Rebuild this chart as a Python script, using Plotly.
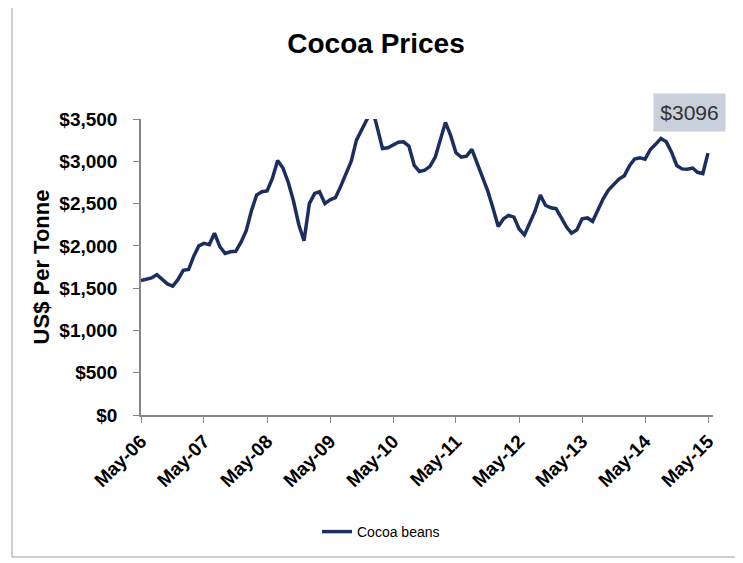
import pandas as pd
import plotly.graph_objects as go

# Monthly cocoa bean prices (US$ per tonne), May 2006 - May 2015
start_month = "2006-05-01"
prices = [
    1590, 1608, 1620, 1660, 1600, 1550, 1525, 1600, 1710, 1720, 1870, 2000,   # May06-Apr07
    2030, 2015, 2150, 1990, 1910, 1930, 1935, 2040, 2180, 2420, 2600, 2640,   # May07-Apr08
    2650, 2800, 3010, 2920, 2750, 2530, 2250, 2060, 2500, 2620, 2640, 2500,   # May08-Apr09
    2545, 2570, 2700, 2840, 3000, 3250, 3370, 3480, 3620, 3380, 3150, 3160,   # May09-Apr10
    3190, 3225, 3230, 3180, 2950, 2880, 2895, 2940, 3050, 3250, 3460, 3300,   # May10-Apr11
    3100, 3050, 3060, 3140, 2980, 2820, 2650, 2450, 2230, 2320, 2360, 2340,   # May11-Apr12
    2200, 2130, 2280, 2410, 2600, 2480, 2450, 2440, 2330, 2220, 2150, 2190,   # May12-Apr13
    2320, 2330, 2290, 2420, 2560, 2660, 2720, 2790, 2830, 2950, 3025, 3040,   # May13-Apr14
    3025, 3140, 3200, 3270, 3230, 3110, 2950, 2910, 2905, 2920, 2870, 2855,   # May14-Apr15
    3096,                                                                      # May15
]
dates = pd.date_range(start_month, periods=len(prices), freq="MS")
series_name = "Cocoa beans"
title_text = "Cocoa Prices"
y_title = "US$ Per Tonne"
last_label = "$3096"
y_ticks = [0, 500, 1000, 1500, 2000, 2500, 3000, 3500]
y_tick_text = ["$0", "$500", "$1,000", "$1,500", "$2,000", "$2,500", "$3,000", "$3,500"]

# the page body adds an 8px offset, so the figure is drawn 8px smaller
OFF = 8
W, H = 743 - OFF, 563 - OFF
PL, PR, PT, PB = 141, 713, 119, 415          # plot area in reference pixels
L, R, T, B = PL - OFF, 743 - PR, PT - OFF, 563 - PB
PW, PH = PR - PL, PB - PT


def px(xr):
    return (xr - PL) / PW


def py(yr):
    return (PB - yr) / PH


fig = go.Figure()
fig.add_trace(go.Scatter(
    x=dates, y=prices, mode="lines", name=series_name,
    line=dict(color="#1b2f5e", width=3.5),
))

fig.update_layout(
    width=W, height=H,
    margin=dict(l=L, r=R, t=T, b=B),
    paper_bgcolor="white", plot_bgcolor="white",
    font=dict(family="Liberation Sans, Arial, sans-serif", color="#000000"),
    title=dict(text="<b>" + title_text + "</b>", x=(376 - OFF) / W, xref="container",
               y=1 - (43 - OFF) / H, yref="container", xanchor="center", yanchor="middle",
               font=dict(size=28, color="#000000")),
    showlegend=True,
    legend=dict(orientation="h", x=px(317), xanchor="left",
                y=py(532), yanchor="middle",
                font=dict(size=14, color="#000000"), bgcolor="rgba(0,0,0,0)"),
    xaxis=dict(
        type="date",
        range=["2006-05-01", "2015-05-30"],
        tick0="2006-05-01", dtick="M12", tickformat="%b-%y",
        tickangle=-45, ticks="outside", ticklen=6, tickcolor="#868686",
        showline=True, linecolor="#868686", linewidth=1.5,
        showgrid=False, zeroline=False,
        tickfont=dict(size=19, color="#000000", weight="bold"),
    ),
    yaxis=dict(
        range=[0, 3500], tickvals=y_ticks, ticktext=y_tick_text,
        ticks="outside", ticklen=6, tickcolor="#868686",
        showline=True, linecolor="#868686", linewidth=1.5,
        showgrid=False, zeroline=False,
        ticklabelstandoff=12,
        tickfont=dict(size=19, color="#000000", weight="bold"),
        title=dict(text="<b>" + y_title + "</b>", standoff=4,
                   font=dict(size=22, color="#000000")),
    ),
)

fig.add_annotation(
    xref="paper", yref="paper",
    x=px(689.5), y=py(112.5),
    xanchor="center", yanchor="middle",
    text=last_label, showarrow=False,
    font=dict(size=21, color="#333333"),
    bgcolor="#c8d0dc", width=69, height=35,
)

# outer chart frame (left, right, bottom edges)
frame = dict(color="#a0a0a0", width=1)
fig.add_shape(type="line", xref="paper", yref="paper",
              x0=px(12), x1=px(12), y0=py(557), y1=py(0), line=frame)
fig.add_shape(type="line", xref="paper", yref="paper",
              x0=px(737), x1=px(737), y0=py(557), y1=py(0), line=frame)
fig.add_shape(type="line", xref="paper", yref="paper",
              x0=px(12), x1=px(737), y0=py(557), y1=py(557), line=frame)

fig.write_html("out.html")
